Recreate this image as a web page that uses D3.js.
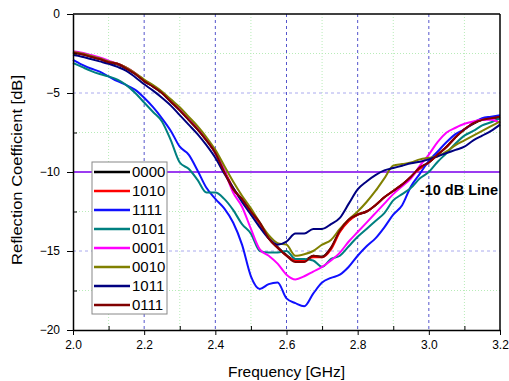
<!DOCTYPE html>
<html>
<head>
<meta charset="utf-8">
<script src="https://cdn.jsdelivr.net/npm/d3@7"></script>
<style>
  body { margin: 0; background: #fff; }
  svg { display: block; font-family: Arial, "Liberation Sans", sans-serif; }
</style>
</head>
<body>
<div id="chart"></div>
<script>
// frequency grid (GHz)
const freq = d3.range(49).map(i => +(2 + i * 0.025).toFixed(3));

// reflection coefficient (dB), one array per switch state
const s0000 = [-2.45,-2.55,-2.7,-2.85,-3.05,-3.2,-3.45,-3.8,-4.25,-4.6,-5.0,-5.55,-6.1,-6.7,-7.3,-8.0,-8.8,-9.95,-11.05,-11.75,-12.5,-13.25,-14.2,-14.75,-15.25,-15.6,-15.6,-15.3,-15.35,-14.8,-13.75,-13.05,-12.7,-12.5,-12.1,-11.6,-11.2,-10.8,-10.3,-9.75,-9.4,-8.9,-8.4,-7.8,-7.3,-6.95,-6.7,-6.6,-6.55];
const s1010 = [-2.4,-2.5,-2.65,-2.8,-3.0,-3.15,-3.4,-3.75,-4.2,-4.55,-4.95,-5.5,-6.05,-6.65,-7.25,-7.95,-8.75,-9.9,-11.0,-11.8,-12.5,-13.3,-14.2,-14.8,-15.3,-15.6,-15.6,-15.4,-15.4,-14.9,-13.8,-13.1,-12.7,-12.5,-12.1,-11.6,-11.2,-10.8,-10.3,-9.8,-9.4,-8.9,-8.4,-7.8,-7.3,-6.9,-6.7,-6.6,-6.5];
const s1111 = [-2.9,-3.2,-3.45,-3.65,-3.95,-4.25,-4.5,-4.8,-5.3,-5.9,-6.6,-7.4,-8.4,-8.9,-9.9,-11.0,-11.7,-12.3,-13.2,-14.6,-16.6,-17.4,-17.1,-17.0,-18.0,-18.3,-18.5,-17.7,-17.0,-16.7,-16.5,-16.0,-15.3,-14.7,-14.2,-13.5,-12.7,-12.1,-10.9,-10.1,-9.3,-8.7,-8.1,-7.6,-7.3,-6.9,-6.6,-6.5,-6.4];
const s0101 = [-3.1,-3.35,-3.6,-3.8,-3.95,-4.15,-4.5,-5.0,-5.6,-6.2,-6.8,-8.0,-9.4,-9.8,-10.5,-11.3,-11.3,-11.7,-12.4,-13.3,-13.9,-15.0,-15.1,-15.1,-15.0,-15.5,-15.5,-15.6,-16.0,-15.5,-15.3,-14.7,-14.1,-13.6,-13.1,-12.6,-11.8,-11.4,-11.0,-10.4,-10.0,-9.35,-8.8,-8.2,-7.7,-7.4,-7.05,-6.85,-6.6];
const s0001 = [-2.35,-2.45,-2.6,-2.75,-2.95,-3.15,-3.4,-3.75,-4.2,-4.55,-4.95,-5.5,-6.0,-6.6,-7.2,-7.9,-8.8,-9.9,-11.3,-12.2,-13.6,-14.9,-15.3,-15.8,-16.5,-16.8,-16.6,-16.3,-16.0,-15.6,-15.1,-14.4,-13.8,-13.2,-12.6,-12.0,-11.4,-10.9,-10.4,-9.6,-8.9,-8.1,-7.5,-7.2,-6.95,-6.8,-6.7,-6.7,-6.9];
const s0010 = [-2.4,-2.5,-2.65,-2.8,-3.0,-3.15,-3.4,-3.75,-4.15,-4.5,-4.9,-5.4,-5.9,-6.5,-7.1,-7.8,-8.6,-9.6,-10.6,-11.5,-12.3,-13.2,-14.0,-14.5,-14.6,-15.3,-15.2,-15.0,-14.6,-14.3,-13.6,-13.0,-12.5,-11.9,-11.2,-10.4,-9.6,-9.5,-9.4,-9.2,-9.1,-9.0,-8.7,-8.3,-8.0,-7.7,-7.4,-7.1,-6.8];
const s1011 = [-2.6,-2.7,-2.85,-3.0,-3.15,-3.35,-3.6,-4.0,-4.45,-4.85,-5.3,-5.8,-6.4,-7.0,-7.6,-8.3,-9.1,-10.1,-11.0,-11.9,-12.7,-13.5,-14.2,-14.6,-14.4,-13.9,-13.9,-13.6,-13.6,-13.3,-12.9,-12.0,-11.1,-10.6,-10.2,-9.9,-9.75,-9.6,-9.45,-9.35,-9.2,-9.0,-8.8,-8.6,-8.4,-8.0,-7.7,-7.4,-7.0];
const s0111 = [-2.45,-2.55,-2.7,-2.85,-3.05,-3.15,-3.45,-3.8,-4.25,-4.6,-5.0,-5.55,-6.1,-6.7,-7.3,-8.0,-8.8,-10.0,-11.1,-11.7,-12.5,-13.2,-14.2,-14.8,-15.3,-15.7,-15.7,-15.3,-15.4,-14.8,-13.7,-13.0,-12.7,-12.5,-12.1,-11.6,-11.2,-10.8,-10.3,-9.7,-9.4,-8.9,-8.4,-7.8,-7.3,-6.9,-6.7,-6.6,-6.5];

const seriesNames = ['0000','1010','1111','0101','0001','0010','1011','0111'];
const seriesValues = [s0000, s1010, s1111, s0101, s0001, s0010, s1011, s0111];
const seriesColors = ['#000000','#ff0000','#1010ff','#008080','#ff00ff','#808000','#000080','#800000'];

const xTicks = [2.0, 2.2, 2.4, 2.6, 2.8, 3.0, 3.2];
const yTicks = [0, -5, -10, -15, -20];
const refLevel = -10;
const refLabel = '-10 dB Line';

const width = 509, height = 381;
const margin = { top: 14, right: 9, bottom: 51, left: 73 };
const iw = width - margin.left - margin.right;
const ih = height - margin.top - margin.bottom;

const svg = d3.select('#chart').append('svg')
  .attr('width', width)
  .attr('height', height);

const x = d3.scaleLinear().domain([2.0, 3.2]).range([0, iw]);
const y = d3.scaleLinear().domain([-20, 0]).range([ih, 0]);

const g = svg.append('g').attr('transform', `translate(${margin.left},${margin.top})`);

// minor grid (green dotted)
const xMinor = d3.range(2.1, 3.2, 0.2);
const yMinor = d3.range(-17.5, 0, 5);
g.append('g').selectAll('line').data(xMinor).join('line')
  .attr('x1', d => x(d)).attr('x2', d => x(d))
  .attr('y1', 0).attr('y2', ih)
  .attr('stroke', '#b8ecb8').attr('stroke-width', 1).attr('stroke-dasharray', '1,2');
g.append('g').selectAll('line').data(yMinor).join('line')
  .attr('x1', 0).attr('x2', iw)
  .attr('y1', d => y(d)).attr('y2', d => y(d))
  .attr('stroke', '#b8ecb8').attr('stroke-width', 1).attr('stroke-dasharray', '1,2');

// major grid (blue dashed)
g.append('g').selectAll('line').data(xTicks.slice(1, -1)).join('line')
  .attr('x1', d => x(d)).attr('x2', d => x(d))
  .attr('y1', 0).attr('y2', ih)
  .attr('stroke', '#5555cc').attr('stroke-width', 1).attr('stroke-dasharray', '3,3');
g.append('g').selectAll('line').data(yTicks.slice(1, -1)).join('line')
  .attr('x1', 0).attr('x2', iw)
  .attr('y1', d => y(d)).attr('y2', d => y(d))
  .attr('stroke', '#aaaaee').attr('stroke-width', 1).attr('stroke-dasharray', '3,3');

// -10 dB reference line
g.append('line')
  .attr('x1', 0).attr('x2', iw)
  .attr('y1', y(refLevel)).attr('y2', y(refLevel))
  .attr('stroke', '#9b3cf0').attr('stroke-width', 2);

// curves
const line = d3.line()
  .x((d, i) => x(freq[i]))
  .y(d => y(d))
  .curve(d3.curveMonotoneX);

seriesValues.forEach((vals, k) => {
  g.append('path')
    .datum(vals)
    .attr('fill', 'none')
    .attr('stroke', seriesColors[k])
    .attr('stroke-width', 2)
    .attr('stroke-linejoin', 'round')
    .attr('d', line);
});

g.append('text')
  .attr('x', x(3.2) - 2).attr('y', y(refLevel) + 23)
  .attr('text-anchor', 'end')
  .attr('font-weight', 'bold')
  .attr('font-size', 14.5)
  .text(refLabel);

// axes
const xAxis = g.append('g').attr('transform', `translate(0,${ih})`)
  .call(d3.axisBottom(x).tickValues(xTicks).tickFormat(d3.format('.1f')).tickSize(5).tickPadding(5).tickSizeOuter(0));
xAxis.selectAll('text').attr('font-size', 12).attr('fill', '#000');
g.append('g').attr('transform', `translate(0,${ih})`)
  .call(d3.axisBottom(x).tickValues(xMinor).tickSize(-4).tickFormat(''))
  .call(a => a.select('.domain').remove());

const yAxis = g.append('g')
  .call(d3.axisLeft(y).tickValues(yTicks).tickFormat(d3.format('d')).tickSize(6).tickPadding(7).tickSizeOuter(0));
yAxis.selectAll('text').attr('font-size', 12).attr('fill', '#000');
g.append('g')
  .call(d3.axisLeft(y).tickValues(yMinor).tickSize(-4).tickFormat(''))
  .call(a => a.select('.domain').remove());

[xAxis, yAxis].forEach(a => a.select('.domain').attr('stroke-width', 1.5));

// frame top and right
g.append('line').attr('x1', 0).attr('x2', iw).attr('y1', 0).attr('y2', 0)
  .attr('stroke', '#000').attr('stroke-width', 1.5);
g.append('line').attr('x1', iw).attr('x2', iw).attr('y1', 0).attr('y2', ih)
  .attr('stroke', '#000').attr('stroke-width', 1.5);

// axis titles
svg.append('text')
  .attr('x', margin.left + iw / 2).attr('y', 377)
  .attr('text-anchor', 'middle').attr('font-size', 15.5)
  .text('Frequency [GHz]');
svg.append('text')
  .attr('transform', `translate(22,170) rotate(-90)`)
  .attr('text-anchor', 'middle').attr('font-size', 14)
  .attr('textLength', 190).attr('lengthAdjust', 'spacingAndGlyphs')
  .text('Reflection Coefficient [dB]');

// legend
const leg = svg.append('g').attr('transform', 'translate(92,162)');
leg.append('rect')
  .attr('width', 75).attr('height', 152)
  .attr('fill', '#fff').attr('stroke', '#888').attr('stroke-width', 1);
seriesNames.forEach((name, k) => {
  const yy = 10 + k * 19;
  leg.append('line')
    .attr('x1', 2).attr('x2', 38).attr('y1', yy).attr('y2', yy)
    .attr('stroke', seriesColors[k]).attr('stroke-width', 2.5);
  leg.append('text')
    .attr('x', 40).attr('y', yy).attr('dy', '0.36em')
    .attr('font-size', 15)
    .text(name);
});
</script>
</body>
</html>
